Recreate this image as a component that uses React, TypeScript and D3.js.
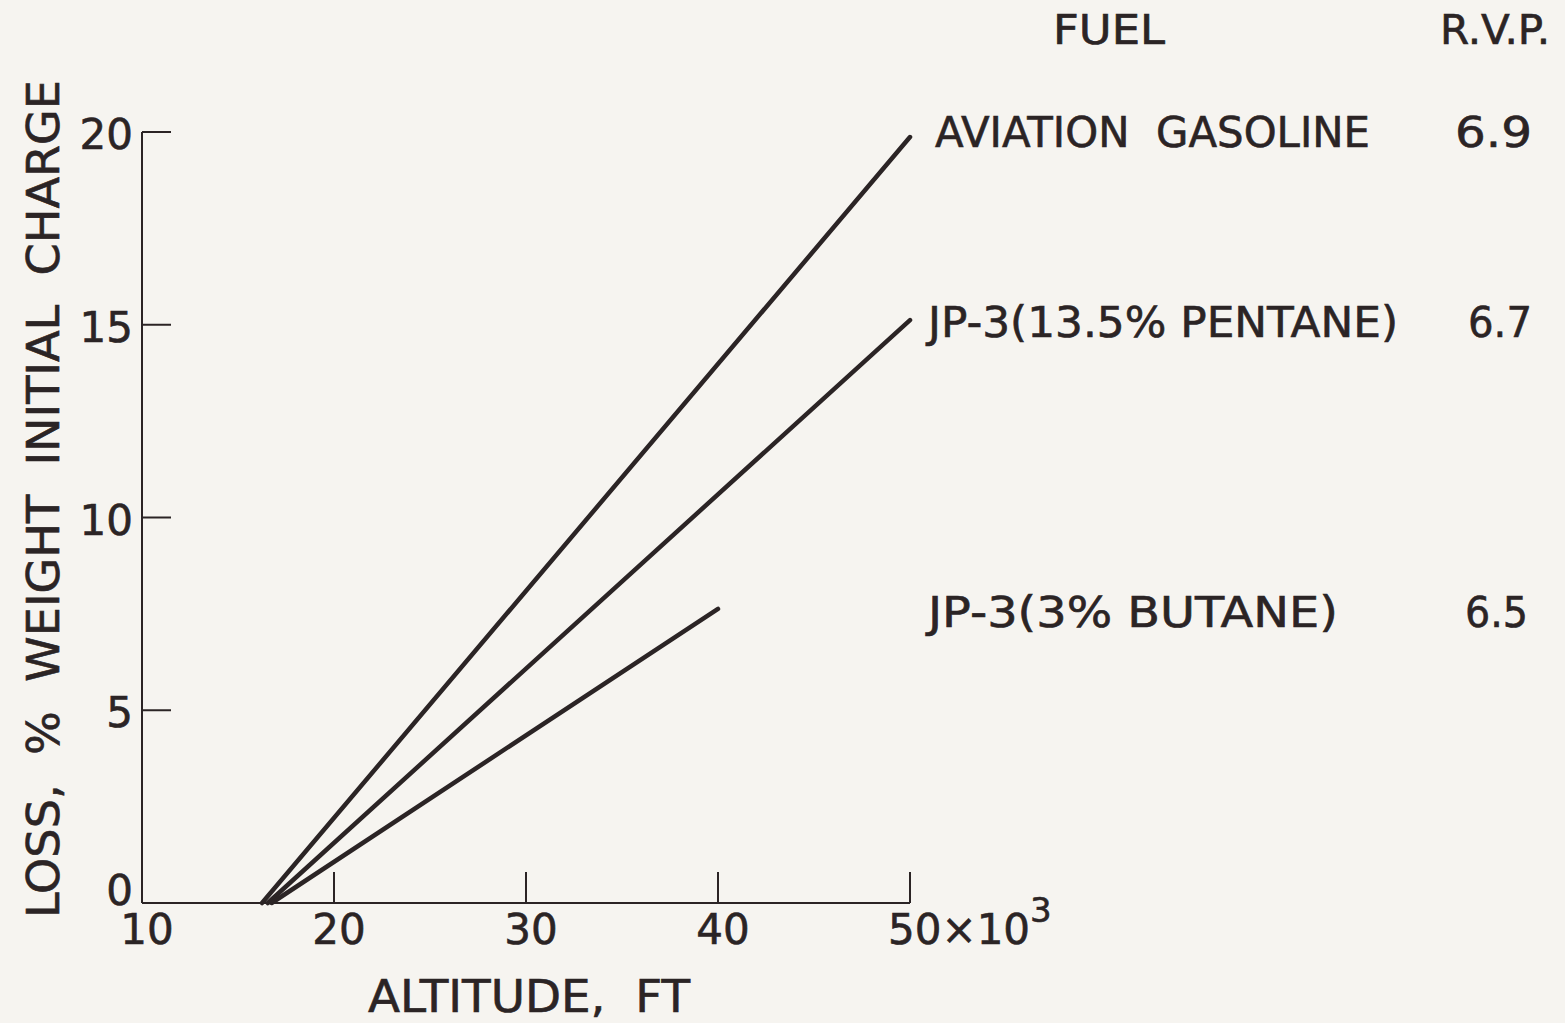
import React from "react";
import * as d3 from "d3";

const xTicks = [10, 20, 30, 40, 50];
const yTicks = [0, 5, 10, 15, 20];
const fuels = ["AVIATION  GASOLINE", "JP-3(13.5% PENTANE)", "JP-3(3% BUTANE)"];
const rvp = ["6.9", "6.7", "6.5"];
const aviation: [number, number][] = [[16.25, 0], [50, 19.87]];
const pentane: [number, number][] = [[16.55, 0], [50, 15.12]];
const butane: [number, number][] = [[16.75, 0], [40, 7.63]];
const seriesList = [aviation, pentane, butane];

const INK = "#2b2425";
const BG = "#f6f4f0";
const FONT = "'DejaVu Sans', sans-serif";

export default function App() {
  const W = 1565, H = 1023;
  const x = d3.scaleLinear().domain([10, 50]).range([142, 910]);
  const y = d3.scaleLinear().domain([0, 20]).range([903, 132]);
  const line = d3.line<[number, number]>().x(d => x(d[0])).y(d => y(d[1]));

  const legendRows = [
    { label: fuels[0], val: rvp[0], lx: 935, lw: 435, vx: 1455, vw: 77, by: 147 },
    { label: fuels[1], val: rvp[1], lx: 928, lw: 470, vx: 1468, vw: 64, by: 337 },
    { label: fuels[2], val: rvp[2], lx: 928, lw: 410, vx: 1465, vw: 63, by: 627 },
  ];
  const txt = { whiteSpace: "pre" as const };

  return (
    <svg width={W} height={H} style={{ position: "absolute", left: 0, top: 0, background: BG }}
      fontFamily={FONT} fill={INK} stroke="none">
      <rect x={0} y={0} width={W} height={H} fill={BG} />
      <line x1={x(10)} x2={x(50)} y1={y(0)} y2={y(0)} stroke={INK} strokeWidth={2} />
      <line x1={x(10)} x2={x(10)} y1={y(0)} y2={y(20)} stroke={INK} strokeWidth={2} />
      {xTicks.filter(t => t > 10).map(t => (
        <line key={"xt" + t} x1={x(t)} x2={x(t)} y1={y(0)} y2={y(0) - 31} stroke={INK} strokeWidth={2} />
      ))}
      {yTicks.filter(t => t > 0).map(t => (
        <line key={"yt" + t} x1={x(10)} x2={x(10) + 29} y1={y(t)} y2={y(t)} stroke={INK} strokeWidth={2} />
      ))}
      <g stroke={INK} strokeWidth={0.6}>
        {xTicks.map(t => t < 50 ? (
          <text key={"xl" + t} x={x(t) + 5} y={944} textAnchor="middle" fontSize={42}>{t}</text>
        ) : (
          <text key={"xl" + t} x={x(t) - 22} y={944} fontSize={42}>
            {t}×10<tspan dy={-22} fontSize={34}>3</tspan>
          </text>
        ))}
        {yTicks.map(t => (
          <text key={"yl" + t} x={133} y={t === 0 ? y(t) + 2 : y(t) + 17} textAnchor="end" fontSize={42}>{t}</text>
        ))}
        <text x={529} y={1012} textAnchor="middle" fontSize={44} textLength={322} lengthAdjust="spacingAndGlyphs" style={txt}>ALTITUDE,  FT</text>
        <text transform="translate(59,499) rotate(-90)" textAnchor="middle" fontSize={44}
          textLength={838} lengthAdjust="spacingAndGlyphs" style={txt}>LOSS,  %  WEIGHT  INITIAL  CHARGE</text>
        <text x={1053} y={44} fontSize={40} textLength={112} lengthAdjust="spacingAndGlyphs">FUEL</text>
        <text x={1440} y={44} fontSize={40} textLength={110} lengthAdjust="spacingAndGlyphs">R.V.P.</text>
        {legendRows.map((r, i) => (
          <g key={"lg" + i}>
            <text x={r.lx} y={r.by} fontSize={42} textLength={r.lw} lengthAdjust="spacingAndGlyphs" style={txt}>{r.label}</text>
            <text x={r.vx} y={r.by} fontSize={42} textLength={r.vw} lengthAdjust="spacingAndGlyphs">{r.val}</text>
          </g>
        ))}
      </g>
      {seriesList.map((s, i) => (
        <path key={"s" + i} d={line(s) || ""} fill="none" stroke={INK} strokeWidth={4.5} strokeLinecap="round" />
      ))}
    </svg>
  );
}
